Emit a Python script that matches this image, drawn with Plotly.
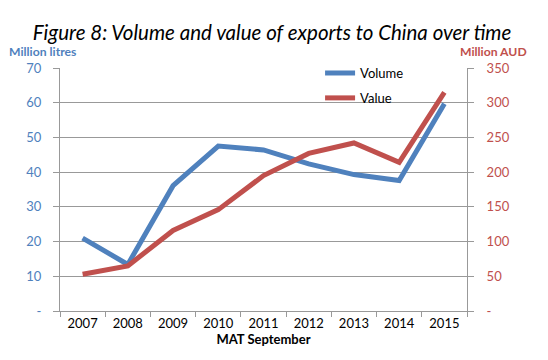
import plotly.graph_objects as go

years = ["2007", "2008", "2009", "2010", "2011", "2012", "2013", "2014", "2015"]
volume = [21.0, 13.4, 36.1, 47.5, 46.4, 42.4, 39.3, 37.6, 59.7]
value = [53, 65, 116, 146, 195, 227, 242, 214, 315]

left_ticks = [0, 10, 20, 30, 40, 50, 60, 70]
left_text = ["-", "10", "20", "30", "40", "50", "60", "70"]
right_ticks = [0, 50, 100, 150, 200, 250, 300, 350]
right_text = ["-", "50", "100", "150", "200", "250", "300", "350"]

BLUE = "#4F81BD"
RED = "#C0504D"
GRID = "#999999"
FONT = "Lato"

fig = go.Figure()
fig.add_trace(go.Scatter(x=years, y=volume, name="Volume", mode="lines",
                         line=dict(color=BLUE, width=5), legendgroup="a"))
fig.add_trace(go.Scatter(x=years, y=value, name="Value", mode="lines",
                         line=dict(color=RED, width=5), yaxis="y2", legendgroup="b"))

fig.update_layout(
    width=540, height=352,
    margin=dict(l=52, r=81, t=60, b=49),
    paper_bgcolor="white", plot_bgcolor="white",
    font=dict(family=FONT, size=13, color="black"),
    showlegend=True,
    legend=dict(x=0.639, y=1.041, xanchor="left", yanchor="top",
                bgcolor="rgba(0,0,0,0)", font=dict(size=13, color="black"),
                tracegroupgap=5, itemwidth=30),
    xaxis=dict(type="category", range=[-0.5, 8.5], showgrid=False,
               showline=True, linecolor=GRID, linewidth=1,
               ticks="outside", tickson="boundaries", ticklen=5, tickcolor=GRID,
               tickfont=dict(size=13, color="black"),
               title=dict(text="<b>MAT September</b>", font=dict(size=13), standoff=2)),
    yaxis=dict(range=[0, 70], tickvals=left_ticks, ticktext=left_text,
               showgrid=True, gridcolor=GRID, gridwidth=1,
               showline=True, linecolor=GRID, ticks="outside", ticklen=6, tickcolor=GRID,
               ticklabelstandoff=9,
               tickfont=dict(size=13, color=BLUE), zeroline=False),
    yaxis2=dict(range=[0, 350], tickvals=right_ticks, ticktext=right_text,
                overlaying="y", side="right", showgrid=False,
                showline=True, linecolor=GRID, ticks="outside", ticklen=6, tickcolor=GRID,
                ticklabelstandoff=10,
                tickfont=dict(size=13, color=RED), zeroline=False),
    title=dict(text="<i>Figure 8: Volume and value of exports to China over time</i>",
               xref="container", x=0.489, xanchor="center",
               yref="container", y=0.929, yanchor="middle",
               font=dict(family=FONT, size=20.5, color="black")),
    annotations=[
        dict(text="<b>Million litres</b>", xref="paper", yref="paper",
             x=(0 - 52) / 407, y=1.0 + (60 - 52) / 243, xanchor="left", yanchor="bottom",
             borderpad=0, showarrow=False, font=dict(size=12.2, color=BLUE)),
        dict(text="<b>Million AUD</b>", xref="paper", yref="paper",
             x=(451 - 52) / 407, y=1.0 + (60 - 52) / 243, xanchor="left", yanchor="bottom",
             borderpad=0, showarrow=False, font=dict(size=12.2, color=RED)),
    ],
)

fig.write_html("out.html")
